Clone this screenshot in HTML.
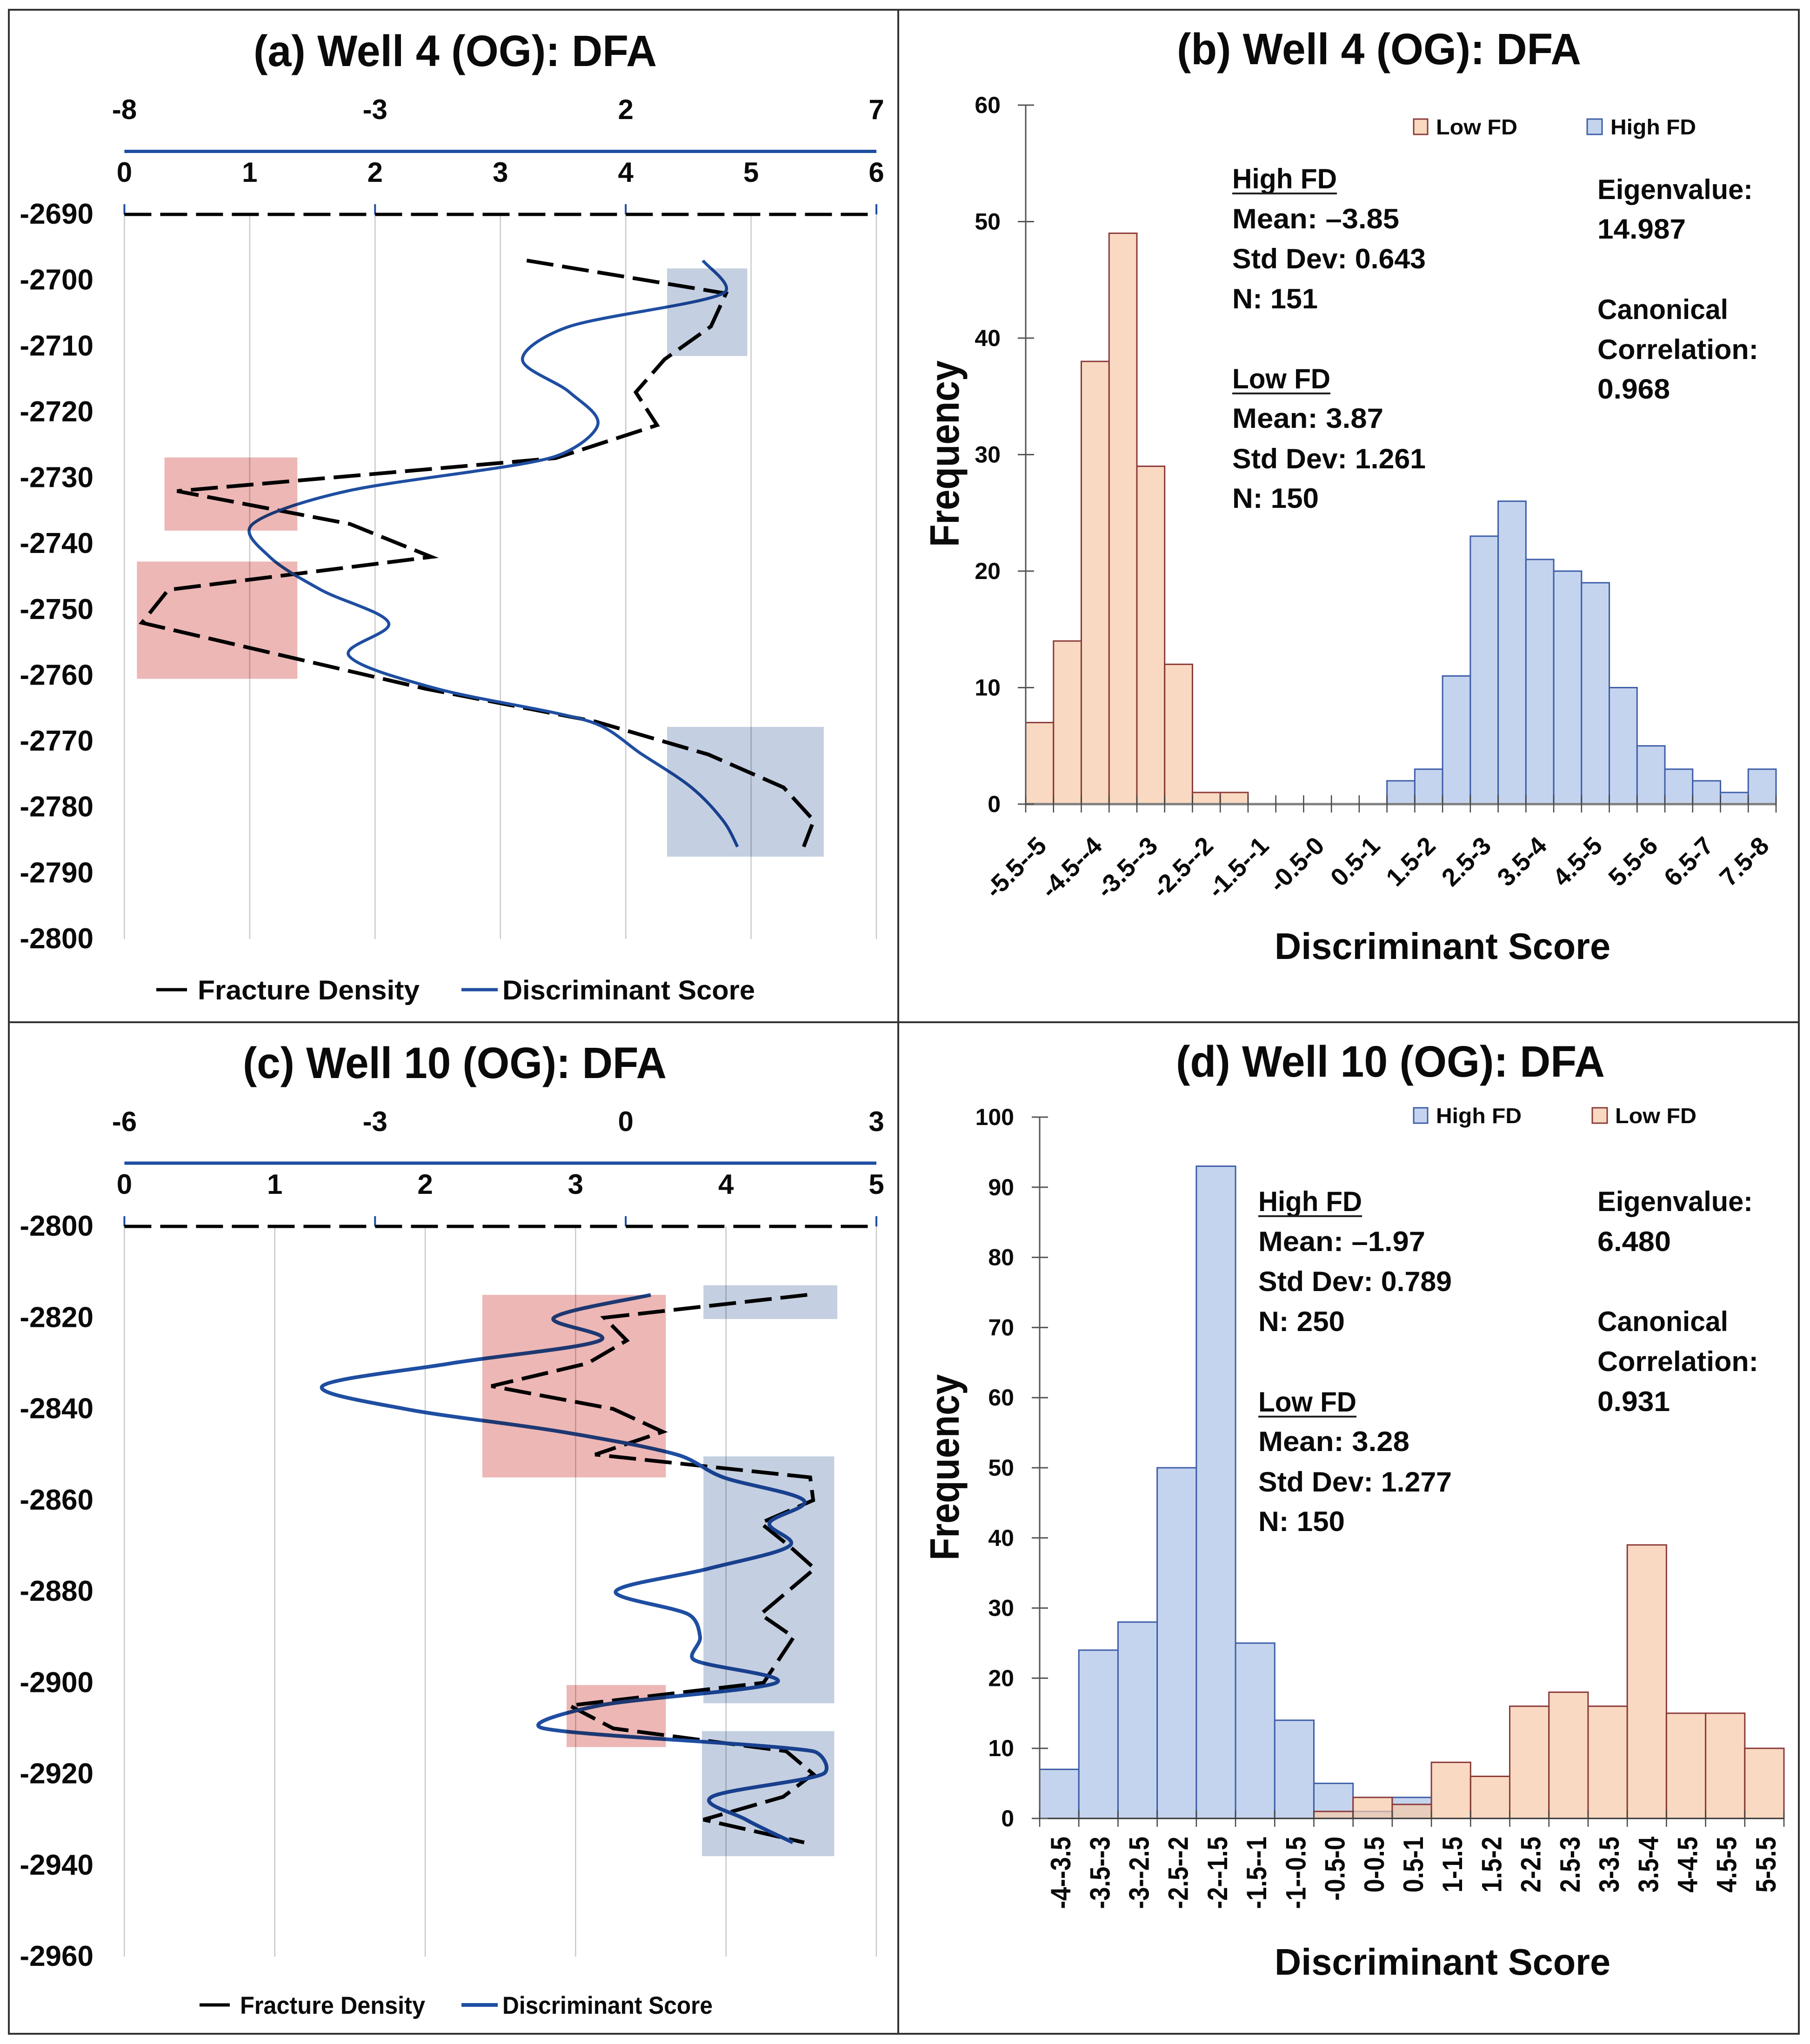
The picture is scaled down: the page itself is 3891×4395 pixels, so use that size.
<!DOCTYPE html>
<html lang="en">
<head>
<meta charset="utf-8">
<title>Well 4 and Well 10 (OG): DFA</title>
<style>
html,body{margin:0;padding:0;background:#fff}
svg{display:block}
text{font-family:"Liberation Sans",sans-serif;font-weight:700;fill:#0a0a0a}
</style>
</head>
<body>
<svg id="fig" xmlns="http://www.w3.org/2000/svg" width="3891" height="4395" viewBox="0 0 3891 4395">
<rect x="0" y="0" width="3891" height="4395" fill="#fff"/>
<g id="panelA"></g>
<g id="panelB"></g>
<g id="panelC"></g>
<g id="panelD"></g>

<g fill="none" stroke="#333" stroke-width="4">
<rect x="19" y="21" width="3848" height="4352"/>
<line x1="1931" y1="21" x2="1931" y2="4373"/>
<line x1="19" y1="2198" x2="3867" y2="2198"/>
</g>

<text x="545" y="142" font-size="95" textLength="867" lengthAdjust="spacingAndGlyphs">(a) Well 4 (OG): DFA</text>
<text x="2530" y="138" font-size="95" textLength="869" lengthAdjust="spacingAndGlyphs">(b) Well 4 (OG): DFA</text>
<text x="522" y="2318" font-size="95" textLength="911" lengthAdjust="spacingAndGlyphs">(c) Well 10 (OG): DFA</text>
<text x="2528" y="2315" font-size="95" textLength="922" lengthAdjust="spacingAndGlyphs">(d) Well 10 (OG): DFA</text>

<g>
<line x1="336" y1="2128" x2="402" y2="2128" stroke="#000" stroke-width="7"/>
<text x="425" y="2149" font-size="58" textLength="477" lengthAdjust="spacingAndGlyphs">Fracture Density</text>
<line x1="992" y1="2128" x2="1070" y2="2128" stroke="#1f4ea1" stroke-width="7"/>
<text x="1080" y="2149" font-size="58" textLength="543" lengthAdjust="spacingAndGlyphs">Discriminant Score</text>
</g>
<g>
<line x1="429" y1="4311" x2="494" y2="4311" stroke="#000" stroke-width="7"/>
<text x="516" y="4330" font-size="53" textLength="398" lengthAdjust="spacingAndGlyphs">Fracture Density</text>
<line x1="992" y1="4311" x2="1070" y2="4311" stroke="#1f4ea1" stroke-width="8"/>
<text x="1080" y="4330" font-size="53" textLength="452" lengthAdjust="spacingAndGlyphs">Discriminant Score</text>
</g>

<g>
<rect x="3039" y="256" width="30" height="33" fill="#f9d9c0" stroke="#8b3a3a" stroke-width="3"/>
<text x="3087" y="289" font-size="46" textLength="175" lengthAdjust="spacingAndGlyphs">Low FD</text>
<rect x="3412" y="256" width="32" height="33" fill="#c5d4ee" stroke="#3d5ea8" stroke-width="3"/>
<text x="3462" y="289" font-size="46" textLength="184" lengthAdjust="spacingAndGlyphs">High FD</text>
</g>
<g>
<rect x="3039" y="2382" width="30" height="33" fill="#c5d4ee" stroke="#3d5ea8" stroke-width="3"/>
<text x="3087" y="2415" font-size="46" textLength="184" lengthAdjust="spacingAndGlyphs">High FD</text>
<rect x="3423" y="2382" width="32" height="33" fill="#f9d9c0" stroke="#8b3a3a" stroke-width="3"/>
<text x="3472" y="2415" font-size="46" textLength="175" lengthAdjust="spacingAndGlyphs">Low FD</text>
</g>

<g font-size="60">
<text x="2649" y="405" textLength="225" lengthAdjust="spacingAndGlyphs">High FD</text>
<line x1="2649" y1="416" x2="2874" y2="416" stroke="#222" stroke-width="4"/>
<text x="2649" y="491" textLength="359" lengthAdjust="spacingAndGlyphs">Mean: –3.85</text>
<text x="2649" y="577" textLength="416" lengthAdjust="spacingAndGlyphs">Std Dev: 0.643</text>
<text x="2649" y="663" textLength="184" lengthAdjust="spacingAndGlyphs">N: 151</text>
<text x="2649" y="835" textLength="211" lengthAdjust="spacingAndGlyphs">Low FD</text>
<line x1="2649" y1="846" x2="2860" y2="846" stroke="#222" stroke-width="4"/>
<text x="2649" y="920" textLength="325" lengthAdjust="spacingAndGlyphs">Mean: 3.87</text>
<text x="2649" y="1007" textLength="416" lengthAdjust="spacingAndGlyphs">Std Dev: 1.261</text>
<text x="2649" y="1092" textLength="186" lengthAdjust="spacingAndGlyphs">N: 150</text>
<text x="3434" y="428" textLength="334" lengthAdjust="spacingAndGlyphs">Eigenvalue:</text>
<text x="3434" y="513" textLength="190" lengthAdjust="spacingAndGlyphs">14.987</text>
<text x="3434" y="686" textLength="281" lengthAdjust="spacingAndGlyphs">Canonical</text>
<text x="3434" y="772" textLength="346" lengthAdjust="spacingAndGlyphs">Correlation:</text>
<text x="3434" y="857" textLength="156" lengthAdjust="spacingAndGlyphs">0.968</text>
</g>
<g font-size="60">
<text x="2705" y="2604" textLength="223" lengthAdjust="spacingAndGlyphs">High FD</text>
<line x1="2705" y1="2615" x2="2928" y2="2615" stroke="#222" stroke-width="4"/>
<text x="2705" y="2690" textLength="359" lengthAdjust="spacingAndGlyphs">Mean: –1.97</text>
<text x="2705" y="2776" textLength="416" lengthAdjust="spacingAndGlyphs">Std Dev: 0.789</text>
<text x="2705" y="2862" textLength="186" lengthAdjust="spacingAndGlyphs">N: 250</text>
<text x="2705" y="3035" textLength="211" lengthAdjust="spacingAndGlyphs">Low FD</text>
<line x1="2705" y1="3046" x2="2916" y2="3046" stroke="#222" stroke-width="4"/>
<text x="2705" y="3120" textLength="325" lengthAdjust="spacingAndGlyphs">Mean: 3.28</text>
<text x="2705" y="3207" textLength="416" lengthAdjust="spacingAndGlyphs">Std Dev: 1.277</text>
<text x="2705" y="3292" textLength="186" lengthAdjust="spacingAndGlyphs">N: 150</text>
<text x="3434" y="2604" textLength="334" lengthAdjust="spacingAndGlyphs">Eigenvalue:</text>
<text x="3434" y="2690" textLength="158" lengthAdjust="spacingAndGlyphs">6.480</text>
<text x="3434" y="2862" textLength="281" lengthAdjust="spacingAndGlyphs">Canonical</text>
<text x="3434" y="2948" textLength="346" lengthAdjust="spacingAndGlyphs">Correlation:</text>
<text x="3434" y="3034" textLength="156" lengthAdjust="spacingAndGlyphs">0.931</text>
</g>

<text transform="translate(2061 1176) rotate(-90)" x="0" y="0" font-size="88" textLength="401" lengthAdjust="spacingAndGlyphs">Frequency</text>
<text transform="translate(2061 3355) rotate(-90)" x="0" y="0" font-size="88" textLength="400" lengthAdjust="spacingAndGlyphs">Frequency</text>
<text x="2740" y="2062" font-size="80" textLength="722" lengthAdjust="spacingAndGlyphs">Discriminant Score</text>
<text x="2740" y="4246" font-size="80" textLength="722" lengthAdjust="spacingAndGlyphs">Discriminant Score</text>
</svg>

<script>
// ---- Panel (a) Well 4 log ----
const well4Depths = [-2697,-2702,-2707,-2712,-2717,-2722,-2727,-2732,-2737,-2742,-2747,-2752,-2757,-2762,-2767,-2772,-2777,-2782,-2786];
const well4FractureDensity = [3.21,4.80,4.68,4.31,4.08,4.25,3.44,0.42,1.80,2.45,0.35,0.14,1.27,2.40,3.76,4.66,5.26,5.50,5.42];
const well4Discriminant = [3.54,3.94,0.88,-0.06,0.88,1.44,0.48,-3.56,-5.44,-5.10,-4.08,-2.73,-3.52,-1.77,1.29,2.33,3.31,3.94,4.23];
const well4DepthTicks = [-2690,-2700,-2710,-2720,-2730,-2740,-2750,-2760,-2770,-2780,-2790,-2800];
const well4FdTicks = [0,1,2,3,4,5,6];
const well4DsTicks = [-8,-3,2,7];
const well4HighZones = [[4.33,4.97,-2698.2,-2711.5],[4.33,5.58,-2767.8,-2787.5]];
const well4LowZones = [[0.32,1.38,-2726.9,-2738],[0.10,1.38,-2742.7,-2760.5]];

// ---- Panel (c) Well 10 log ----
const well10Depths = [-2815,-2820,-2825,-2830,-2835,-2840,-2845,-2850,-2855,-2860,-2865,-2870,-2875,-2880,-2885,-2890,-2895,-2900,-2905,-2910,-2915,-2920,-2925,-2930,-2935];
const well10FractureDensity = [4.54,3.19,3.34,3.08,2.44,3.25,3.58,3.13,4.56,4.58,4.23,4.42,4.59,4.41,4.23,4.45,4.35,4.25,2.96,3.25,4.40,4.58,4.38,3.85,4.52];
const well10Discriminant = [0.30,-0.86,-0.31,-2.09,-3.63,-2.64,-0.77,0.61,1.17,2.13,1.72,1.96,0.99,-0.12,0.75,0.89,0.82,1.80,-0.32,-0.98,2.24,2.36,1.03,1.44,2.00];
const well10DepthTicks = [-2800,-2820,-2840,-2860,-2880,-2900,-2920,-2940,-2960];
const well10FdTicks = [0,1,2,3,4,5];
const well10DsTicks = [-6,-3,0,3];
const well10HighZones = [[3.85,4.74,-2812.9,-2820.3],[3.85,4.72,-2850.4,-2904.5],[3.84,4.72,-2910.6,-2938]];
const well10LowZones = [[2.38,3.60,-2815,-2855],[2.94,3.60,-2900.5,-2914.1]];

// ---- Panel (b) Well 4 histogram ----
const well4Bins = ["-5.5--5","-5--4.5","-4.5--4","-4--3.5","-3.5--3","-3--2.5","-2.5--2","-2--1.5","-1.5--1","-1--0.5","-0.5-0","0-0.5","0.5-1","1-1.5","1.5-2","2-2.5","2.5-3","3-3.5","3.5-4","4-4.5","4.5-5","5-5.5","5.5-6","6-6.5","6.5-7","7-7.5","7.5-8"];
const well4LowCounts = [7,14,38,49,29,12,1,1,0,0,0,0,0,0,0,0,0,0,0,0,0,0,0,0,0,0,0];
const well4HighCounts = [0,0,0,0,0,0,0,0,0,0,0,0,0,2,3,11,23,26,21,20,19,10,5,3,2,1,3];
const well4FreqTicks = [0,10,20,30,40,50,60];

// ---- Panel (d) Well 10 histogram ----
const well10Bins = ["-4--3.5","-3.5--3","-3--2.5","-2.5--2","-2--1.5","-1.5--1","-1--0.5","-0.5-0","0-0.5","0.5-1","1-1.5","1.5-2","2-2.5","2.5-3","3-3.5","3.5-4","4-4.5","4.5-5","5-5.5"];
const well10HighCounts = [7,24,28,50,93,25,14,5,1,3,0,0,0,0,0,0,0,0,0];
const well10LowCounts = [0,0,0,0,0,0,0,1,3,2,8,6,16,18,16,39,15,15,10];
const well10FreqTicks = [0,10,20,30,40,50,60,70,80,90,100];

const SVGNS = 'http://www.w3.org/2000/svg';
function mk(tag, parent, attrs) {
  const el = document.createElementNS(SVGNS, tag);
  for (const k in attrs) el.setAttribute(k, attrs[k]);
  parent.appendChild(el);
  return el;
}
// Catmull-Rom handles, clamped to a fraction of the segment so short segments next to long ones do not overshoot.
function smoothPath(pts) {
  const handle = (a, b, L) => {
    let hx = (b[0] - a[0]) / 6, hy = (b[1] - a[1]) / 6;
    const len = Math.hypot(hx, hy), cap = L * 0.4;
    if (len > cap && len > 0) { hx *= cap / len; hy *= cap / len; }
    return [hx, hy];
  };
  let d = 'M' + pts[0][0].toFixed(1) + ' ' + pts[0][1].toFixed(1);
  for (let i = 0; i < pts.length - 1; i++) {
    const p0 = pts[Math.max(0, i - 1)], p1 = pts[i], p2 = pts[i + 1], p3 = pts[Math.min(pts.length - 1, i + 2)];
    const L = Math.hypot(p2[0] - p1[0], p2[1] - p1[1]);
    const h1 = handle(p0, p2, L), h2 = handle(p1, p3, L);
    const c1x = p1[0] + h1[0], c1y = p1[1] + h1[1];
    const c2x = p2[0] - h2[0], c2y = p2[1] - h2[1];
    d += 'C' + c1x.toFixed(1) + ' ' + c1y.toFixed(1) + ' ' + c2x.toFixed(1) + ' ' + c2y.toFixed(1) + ' ' + p2[0].toFixed(1) + ' ' + p2[1].toFixed(1);
  }
  return d;
}

function drawWell(host, depths, fd, ds, depthTicks, fdTicks, dsTicks, highZones, lowZones, layout) {
  const dTop = depthTicks[0], dBot = depthTicks[depthTicks.length - 1];
  const fMin = fdTicks[0], fMax = fdTicks[fdTicks.length - 1];
  const sMin = dsTicks[0], sMax = dsTicks[dsTicks.length - 1];
  const left = 267.4, right = 1884;
  const xF = v => left + (v - fMin) / (fMax - fMin) * (right - left);
  const xS = v => left + (v - sMin) / (sMax - sMin) * (right - left);
  const y = d => layout.top + (dTop - d) / (dTop - dBot) * (layout.bottom - layout.top);

  fdTicks.forEach(t => {
    const g = mk('line', host, {x1: xF(t), x2: xF(t), y1: layout.top, y2: layout.bottom, stroke: '#c9c9c9', 'stroke-width': 2.5});
    
    
    const lab = mk('text', host, {x: xF(t), y: layout.fdLabelY, 'font-size': 60, 'text-anchor': 'middle'});
    lab.textContent = String(t);
    
    
  });
  dsTicks.forEach(t => {
    const lab = mk('text', host, {x: xS(t), y: layout.dsLabelY, 'font-size': 60, 'text-anchor': 'middle'});
    lab.textContent = String(t);
    
    
    const tk = mk('line', host, {x1: xS(t), x2: xS(t), y1: layout.top - 22, y2: layout.top, stroke: '#1f4ea1', 'stroke-width': 4});
    
    
  });
  depthTicks.forEach(t => {
    const lab = mk('text', host, {x: 201, y: y(t) + 20, 'font-size': 62, 'text-anchor': 'end'});
    lab.textContent = String(t);
    
    
  });

  const ba = mk('line', host, {x1: left, x2: right, y1: layout.blueAxisY, y2: layout.blueAxisY, stroke: '#1f4ea1', 'stroke-width': 7});
  
  
  const da = mk('line', host, {x1: left, x2: right, y1: layout.top, y2: layout.top, stroke: '#000', 'stroke-width': 7, 'stroke-dasharray': '58 19'});
  
  

  const fdPts = depths.map((d, i) => [xF(fd[i]), y(d)]);
  const fl = mk('polyline', host, {points: fdPts.map(p => p[0].toFixed(1) + ',' + p[1].toFixed(1)).join(' '), fill: 'none', stroke: '#000', 'stroke-width': 8, 'stroke-dasharray': '58 19', 'stroke-linejoin': 'miter'});
  
  
  const dsPts = depths.map((d, i) => [xS(ds[i]), y(d)]);
  const sl = mk('path', host, {d: smoothPath(dsPts), fill: 'none', stroke: '#1f4ea1', 'stroke-width': layout.dsWidth});
  
  

  highZones.forEach(z => {
    const r = mk('rect', host, {x: xF(z[0]), y: y(z[2]), width: xF(z[1]) - xF(z[0]), height: y(z[3]) - y(z[2]), fill: '#c4cfe1', style: 'mix-blend-mode:multiply'});
    
    
  });
  lowZones.forEach(z => {
    const r = mk('rect', host, {x: xF(z[0]), y: y(z[2]), width: xF(z[1]) - xF(z[0]), height: y(z[3]) - y(z[2]), fill: '#ecb7b5', style: 'mix-blend-mode:multiply'});
    
    
  });
}

function drawHist(host, bins, seriesA, styleA, seriesB, styleB, freqTicks, layout) {
  const n = bins.length, maxF = freqTicks[freqTicks.length - 1];
  const w = (layout.right - layout.left) / n;
  const xb = i => layout.left + i * w;
  const y = v => layout.y0 - v / maxF * (layout.y0 - layout.yMax);

  function bars(vals, st, name) {
    vals.forEach((v, i) => {
      if (!v) return;
      const r = mk('rect', host, {x: xb(i), y: y(v), width: w, height: y(0) - y(v), fill: st.fill, 'fill-opacity': st.opacity, stroke: st.stroke, 'stroke-width': 3});
      
      
    });
  }
  bars(seriesA, styleA, styleA.name);
  bars(seriesB, styleB, styleB.name);

  const ya = mk('line', host, {x1: layout.left, x2: layout.left, y1: layout.yMax, y2: layout.y0, stroke: '#555', 'stroke-width': 3});
  
  
  const xa = mk('line', host, {x1: layout.left, x2: layout.right, y1: layout.y0, y2: layout.y0, stroke: layout.xAxisColor, 'stroke-width': layout.xAxisWidth});
  
  

  freqTicks.forEach(t => {
    const tk = mk('line', host, {x1: layout.left - 17, x2: layout.left + 18, y1: y(t), y2: y(t), stroke: '#555', 'stroke-width': 3});
    
    
    const lab = mk('text', host, {x: layout.labelRight, y: y(t) + 17, 'font-size': 50, 'text-anchor': 'end'});
    lab.textContent = String(t);
    
    
  });
  for (let i = 0; i <= n; i++) {
    const tk = mk('line', host, {x1: xb(i), x2: xb(i), y1: layout.y0 - layout.tickUp, y2: layout.y0 + layout.tickDown, stroke: '#444', 'stroke-width': 2.5});
    
    
  }
  bins.forEach((b, i) => {
    if (i % layout.labelEvery) return;
    const cx = xb(i) + w / 2;
    const lab = mk('text', host, {x: 0, y: 0, 'font-size': layout.labelSize, 'text-anchor': 'end',
      transform: 'translate(' + (cx + layout.labelDx) + ' ' + layout.labelY + ') ' + layout.labelTransform});
    lab.textContent = b;
    
    
  });
}

const blueBar = {fill: '#c5d4ee', opacity: 1, stroke: '#3d5ea8', name: 'high-fd-bar'};
const orangeBar = {fill: '#f7c9a6', opacity: 0.7, stroke: '#8b3a3a', name: 'low-fd-bar'};

drawWell(document.getElementById('panelA'), well4Depths, well4FractureDensity, well4Discriminant, well4DepthTicks, well4FdTicks, well4DsTicks, well4HighZones, well4LowZones,
  {top: 461, bottom: 2019, blueAxisY: 325.5, fdLabelY: 391, dsLabelY: 256, dsWidth: 6.5});
drawWell(document.getElementById('panelC'), well10Depths, well10FractureDensity, well10Discriminant, well10DepthTicks, well10FdTicks, well10DsTicks, well10HighZones, well10LowZones,
  {top: 2637, bottom: 4207, blueAxisY: 2501, fdLabelY: 2567, dsLabelY: 2432, dsWidth: 8});
drawHist(document.getElementById('panelB'), well4Bins, well4LowCounts, orangeBar, well4HighCounts, blueBar, well4FreqTicks,
  {left: 2205, right: 3818, y0: 1729, yMax: 226, labelRight: 2151, xAxisColor: '#7f7f7f', xAxisWidth: 5, tickUp: 19, tickDown: 18,
   labelEvery: 2, labelSize: 54, labelDx: 18, labelY: 1822, labelTransform: 'rotate(-45)'});
drawHist(document.getElementById('panelD'), well10Bins, well10HighCounts, blueBar, well10LowCounts, orangeBar, well10FreqTicks,
  {left: 2235, right: 3835, y0: 3910, yMax: 2402, labelRight: 2180, xAxisColor: '#333', xAxisWidth: 3, tickUp: 17, tickDown: 18,
   labelEvery: 1, labelSize: 60, labelDx: 24, labelY: 3949, labelTransform: 'rotate(-90) scale(.88 1)'});
</script>
</body>
</html>
